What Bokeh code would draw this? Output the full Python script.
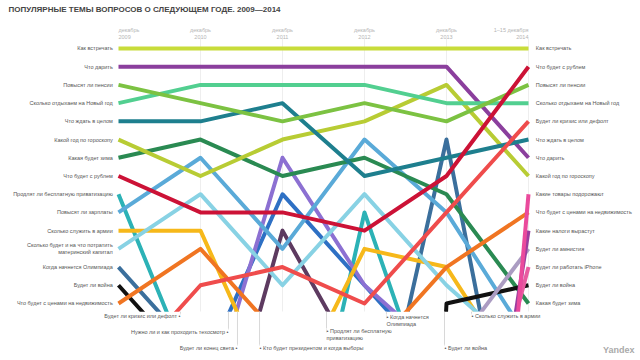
from bokeh.plotting import figure
from bokeh.models import Range1d
from bokeh.core.properties import value
from bokeh.embed import file_html
from bokeh.resources import INLINE

nan = float("nan")

years = [2009, 2010, 2011, 2012, 2013, 2014]
year_labels = ["декабрь\n2009", "декабрь\n2010", "декабрь\n2011",
               "декабрь\n2012", "декабрь\n2013", "1–15 декабря\n2014"]

topics = [
    "Как встречать", "Что дарить", "Повысят ли пенсии",
    "Сколько отдыхаем на Новый год", "Что ждать в целом",
    "Какой год по гороскопу", "Какая будет зима", "Что будет с рублем",
    "Продлят ли бесплатную приватизацию", "Повысят ли зарплаты",
    "Сколько служить в армии",
    "Сколько будет и на что потратить\nматеринский капитал",
    "Когда начнется Олимпиада", "Будет ли война",
    "Что будет с ценами на недвижимость", "Будет ли кризис или дефолт",
    "Нужно ли и как проходить техосмотр", "Будет ли конец света",
    "Кто будет президентом и когда выборы", "Какие товары подорожают",
    "Какие налоги вырастут", "Будет ли амнистия", "Будет ли работать iPhone",
]

colors = [
    "#c8dc3a", "#8b3f9d", "#7cc242", "#52cf90", "#1e7f8e", "#b8cc34",
    "#2a8a52", "#cc1236", "#2cb2b6", "#5aaad8", "#f6b81a", "#88d2e4",
    "#3b6f9c", "#111111", "#f07522", "#ef4c4c", "#2e70c4", "#8c70d2",
    "#5d3a60", "#ea4a9c", "#9b3c9e", "#ab9cc2", "#e85ba0",
]

# rank of each topic per year (ranks > 15 are outside the top list)
rank_2009 = [1, 2, 3, 4, 5, 6, 7, 8, 9, 10, 11, 12, 13, 14, 15, 19, nan, nan, nan, nan, nan, nan, nan]
rank_2010 = [1, 2, 4, 3, 5, 8, 6, 10, 20, 7, 11, 9, 18, 19, 12, 14, 19, 22, 27, nan, nan, nan, nan]
rank_2011 = [1, 2, 5, 3, 4, 6, 8, 10, 30, 12, 21, 14, nan, nan, 17, 13, 9, 7, 11, nan, nan, nan, nan]
rank_2012 = [1, 2, 4, 3, 8, 5, 7, 11, 10, 6, 12, 9, 26, 100, 18, 15, 14, 14, 19, nan, nan, nan, nan]
rank_2013 = [1, 2, 5, 4, 7, 3, 9, 8, 23, 10, 13, 14, 6, 15, 13, 10, 19, 18, nan, 60, 40, 18, 30]
rank_2014 = [1, 7, 3, 4, 6, 8, 15, 2, nan, 17, 20, 18, 29, 14, 10, 5, nan, nan, nan, 9, 11, 12, 13]

# topics that dropped out / re-entered, labelled under the chart
bottom_notes = [
    ("Будет ли кризис или дефолт •", 2009.756, 15.71, "right"),
    ("Нужно ли и как проходить техосмотр •", 2010.341, 16.54, "right"),
    ("Будет ли конец света •", 2010.451, 17.42, "right"),
    ("• Кто будет президентом и когда выборы", 2010.72, 17.42, "left"),
    ("• Продлят ли бесплатную\nприватизацию", 2011.537, 16.70, "left"),
    ("• Когда начнется\nОлимпиада", 2012.268, 15.93, "left"),
    ("• Сколько служить в армии", 2013.305, 15.71, "left"),
    ("• Будет ли война", 2012.976, 17.42, "left"),
]

FONT = value("Liberation Sans")
TOP_N = 15
CUT = 15.45
X0, X1 = 2007.561, 2015.366
Y_TOP, Y_BOT = -1.635, 18.13

rank_cols = [rank_2009, rank_2010, rank_2011, rank_2012, rank_2013, rank_2014]

p = figure(width=640, height=360, output_backend="svg", toolbar_location=None,
           x_range=Range1d(X0, X1), y_range=Range1d(Y_BOT, Y_TOP),
           min_border=0, outline_line_color=None)
p.axis.visible = False
p.grid.visible = False
p.background_fill_color = "white"
p.border_fill_color = "white"

# faint year columns
p.segment(x0=years[1:], y0=[0.45] * 5, x1=years[1:], y1=[CUT] * 5,
          line_color="#eeeeee", line_width=1)

# series lines (draw lower ranks first so top ones sit above)
n = len(topics)
order = sorted(range(n), key=lambda i: -(rank_2014[i] if rank_2014[i] == rank_2014[i] else 99))
for i in order:
    ys = [col[i] for col in rank_cols]
    p.line(years, ys, line_color=colors[i], line_width=4, line_join="round",
           line_cap="butt")

# hide what falls below the top list
p.quad(left=X0, right=X1, top=CUT, bottom=Y_BOT,
       fill_color="white", line_color=None)

# left labels (2009 ranks)
lx, ly, lt = [], [], []
for i in range(n):
    r = rank_2009[i]
    if r == r and r <= TOP_N:
        lx.append(years[0] - 0.07)
        ly.append(r)
        lt.append(topics[i])
p.text(lx, ly, text=lt, text_font=FONT, text_font_size="5.5px", text_color="#555555",
       text_align="right", text_baseline="middle", text_line_height=1.15)

# right labels (2014 ranks)
rx, ry, rt = [], [], []
for i in range(n):
    r = rank_2014[i]
    if r == r and r <= TOP_N:
        rx.append(years[-1] + 0.09)
        ry.append(r)
        rt.append(topics[i])
p.text(rx, ry, text=rt, text_font=FONT, text_font_size="5.5px", text_color="#555555",
       text_align="left", text_baseline="middle")

# year headers
aligns = ["left", "center", "center", "center", "center", "right"]
for yr, lab, al in zip(years, year_labels, aligns):
    p.text([yr], [0.18], text=[lab], text_font=FONT, text_font_size="5.5px",
           text_color="#b5b5b5", text_align=al, text_baseline="middle",
           text_line_height=1.1)

# notes under the chart with guide lines
for txt, x, y, al in bottom_notes:
    p.segment(x0=[x], y0=[CUT], x1=[x], y1=[y - 0.1], line_color="#d8d8d8", line_width=1)
for txt, x, y, al in bottom_notes:
    p.text([x], [y], text=[txt], text_font=FONT, text_font_size="5.5px",
           text_color="#555555", text_align=al, text_baseline="middle",
           text_line_height=1.15, background_fill_color="white")

# title
p.text([2007.659], [-1.38], text=["ПОПУЛЯРНЫЕ ТЕМЫ ВОПРОСОВ О СЛЕДУЮЩЕМ ГОДЕ. 2009—2014"],
       text_font=FONT, text_font_size="8px", text_font_style="bold",
       text_color="#444444", text_align="left", text_baseline="top")

# source mark
p.text([2015.293], [17.53], text=["Yandex"], text_font=FONT, text_font_size="9px",
       text_font_style="bold", text_color="#aaaaaa", text_align="right",
       text_baseline="middle")

open("out.html", "w").write(file_html(p, INLINE))
